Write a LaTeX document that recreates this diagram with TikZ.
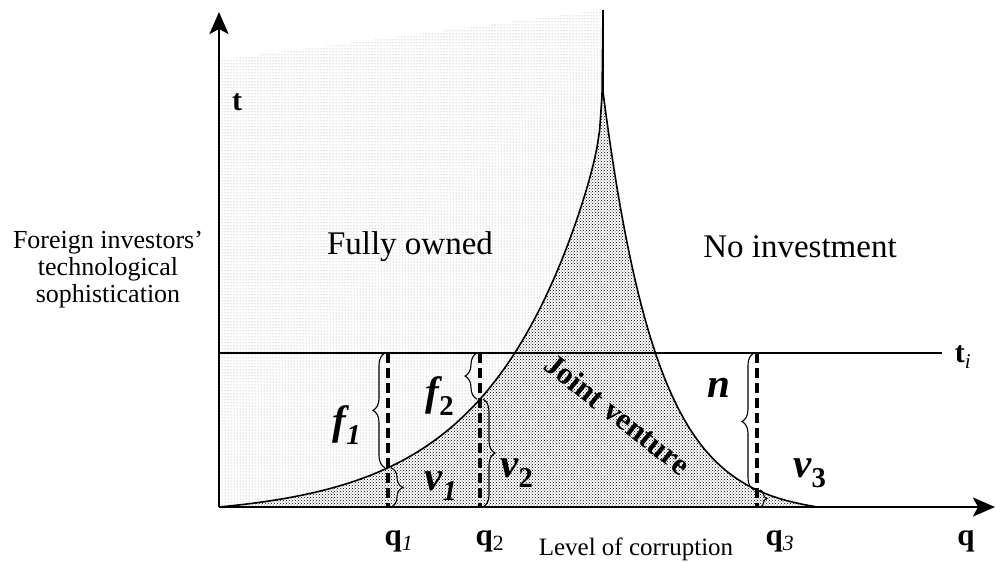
\documentclass[tikz,border=0pt]{standalone}
\usepackage{fontspec}
\setmainfont{Liberation Serif}
\usetikzlibrary{arrows.meta,patterns,decorations.pathreplacing}

\begin{document}
\begin{tikzpicture}[x=1pt, y=-1pt, >={Stealth[length=22pt,width=19pt,inset=5pt]},
  declare function={own(\q)=507-9.8*(exp(0.0095*(\q-219))-1)-94/(604-\q)+94/385;
    quit(\q)=507-8.29*(exp(0.0183*(818-\q))-1);},
  axis/.style={line width=2.8pt},
  curve/.style={line width=1.6pt},
  level/.style={line width=3.2pt, dash pattern=on 10pt off 5pt},
  brace/.style={decorate, decoration={brace, amplitude=12pt}, line width=1.1pt},
  lbl/.style={font=\fontsize{41}{41}\selectfont\bfseries\itshape},
  qlbl/.style={font=\fontsize{31}{31}\selectfont\bfseries, anchor=base},
  region/.style={font=\fontsize{33}{33}\selectfont}]
  \useasboundingbox (0,0) rectangle (996,562);

  % shaded areas
  \fill[pattern=dots, pattern color=gray!80] (603,10) -- (219,60) -- (219,507)
    -- plot[domain=219:602, samples=160] (\x, {own(\x)}) -- cycle;
  \fill[pattern=crosshatch dots, pattern color=black] (219,507)
    -- plot[domain=219:602, samples=160] (\x, {own(\x)}) -- (603,10)
    -- plot[domain=603:818, samples=160] (\x, {quit(\x)}) -- cycle;

  % axes and the level t_i
  \coordinate (O) at (219,507);
  \coordinate (ytop) at (219,12);
  \coordinate (xend) at (995,507);
  \coordinate (tl) at (219,353);
  \coordinate (tr) at (942,353);
  \draw[axis, ->] (O) -- (ytop);
  \draw[axis, ->] (O) -- (xend);
  \draw[line width=1.6pt] (tl) -- (tr);

  % the two frontiers
  \coordinate (peak) at (603,10);
  \draw[curve] plot[domain=219:602, samples=160] (\x, {own(\x)}) -- (peak);
  \draw[curve] (peak) -- plot[domain=603:818, samples=160] (\x, {quit(\x)});

  % points on the frontiers
  \coordinate (a1) at (388,{own(388)});
  \coordinate (a2) at (480,{own(480)});
  \coordinate (a3) at (757,{quit(757)});
  \coordinate (t1) at (388,353);
  \coordinate (t2) at (480,353);
  \coordinate (t3) at (757,353);
  \coordinate (b1) at (388,507);
  \coordinate (b2) at (480,507);
  \coordinate (b3) at (757,507);
  \draw[level] (t1) -- (b1);
  \draw[level] (t2) -- (b2);
  \draw[level] (t3) -- (b3);

  % braces
  \draw[brace] ([xshift=-3pt]a1) -- ([xshift=-3pt]t1);
  \draw[brace] ([xshift=3pt]a1) -- ([xshift=3pt]b1);
  \draw[brace] ([xshift=-3pt]a2) -- ([xshift=-3pt]t2);
  \draw[brace] ([xshift=3pt]a2) -- ([xshift=3pt]b2);
  \draw[brace] ([xshift=-3pt]a3) -- ([xshift=-3pt]t3);
  \draw[brace, decoration={amplitude=7pt}] ([xshift=3pt]a3) -- ([xshift=3pt]b3);

  % labels
  \node[lbl] (f1) at (347,425) {f\textsubscript{\textit{1}}};
  \node[lbl] (v1) at (441,486) {v\textsubscript{\textit{1}}};
  \node[lbl] (f2) at (440,396) {f\textsubscript{\upshape 2}};
  \node[lbl] (v2) at (517,473) {v\textsubscript{\upshape 2}};
  \node[lbl] (n) at (719,388) {n};
  \node[lbl] (v3) at (810,473) {v\textsubscript{\upshape 3}};

  \node[region] (own) at (410,247) {Fully owned};
  \node[region] (noinv) at (800,247) {No investment};
  \node[font=\fontsize{31}{31}\selectfont\bfseries, rotate=-38] (jv) at (618,414) {Joint venture};

  \node[font=\fontsize{30}{30}\selectfont\bfseries] (tax) at (237,102) {t};
  \node[font=\fontsize{30}{30}\selectfont\bfseries] (ti) at (963,357) {t\textsubscript{\mdseries\itshape i}};
  \node[font=\fontsize{26}{27}\selectfont, align=center] (ylab) at (108,270)
    {Foreign investors'\\technological\\sophistication};
  \node[font=\fontsize{25}{25}\selectfont, anchor=base] (xlab) at (636,555) {Level of corruption};

  \node[qlbl] (q1) at (399,545) {q\textsubscript{\mdseries\itshape 1}};
  \node[qlbl] (q2) at (490,545) {q\textsubscript{\mdseries 2}};
  \node[qlbl] (q3) at (780,545) {q\textsubscript{\mdseries\itshape 3}};
  \node[qlbl] (q) at (966,545) {q};
\end{tikzpicture}
\end{document}
